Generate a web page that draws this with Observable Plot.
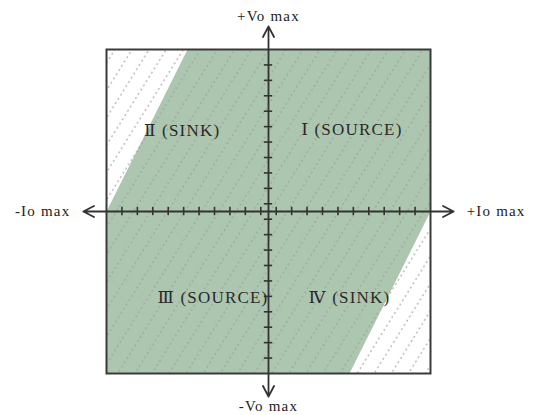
<!DOCTYPE html>
<html>
<head>
<meta charset="utf-8">
<script src="https://cdn.jsdelivr.net/npm/d3@7"></script>
<script src="https://cdn.jsdelivr.net/npm/@observablehq/plot@0.6"></script>
<style>
  html, body { margin: 0; padding: 0; background: #fff; }
  svg text { letter-spacing: 1.2px; }
</style>
</head>
<body>
<div id="chart"></div>
<script>
// Operating envelope (units: fraction of max, scaled to ±10.5)
const envelopeX = [-10.5, -5.25, 10.5, 10.5, 5.25, -10.5];
const envelopeY = [0, 10.5, 10.5, 0, -10.5, -10.5];

// Axis tick positions
const tickValues = [-9.5, -8.5, -7.5, -6.5, -5.5, -4.5, -3.5, -2.5, -1.5, -0.5,
                    0.5, 1.5, 2.5, 3.5, 4.5, 5.5, 6.5, 7.5, 8.5, 9.5];

// Axis arrows (end points)
const arrowX = [12, -12, 0, 0];
const arrowY = [0, 0, 12, -12];

// Axis end labels
const axisLabels = ["+Io max", "-Io max", "+Vo max", "-Vo max"];

// Quadrant labels
const quadLabels = ["Ⅰ (SOURCE)", "Ⅱ (SINK)", "Ⅲ (SOURCE)", "Ⅳ (SINK)"];
const quadX = [5.4, -5.6, -3.6, 5.25];
const quadY = [5.3, 5.25, -5.6, -5.6];

const envelope = envelopeX.map((x, i) => ({x, y: envelopeY[i]}));
const arrows = arrowX.map((x, i) => ({x, y: arrowY[i], label: axisLabels[i]}));
const quads = quadLabels.map((t, i) => ({t, x: quadX[i], y: quadY[i]}));

const serif = "'Liberation Serif', 'Times New Roman', 'DejaVu Serif', serif";
const ink = "#333";

// label offsets (style): right, left, top, bottom
const labelStyle = [
  {textAnchor: "start", dx: 13, dy: 0},
  {textAnchor: "end", dx: -13, dy: 0},
  {textAnchor: "middle", dx: 0, dy: -10},
  {textAnchor: "middle", dx: 0, dy: 10}
];

const svg = Plot.plot({
  width: 535,
  height: 415,
  marginLeft: 106,
  marginRight: 105,
  marginTop: 49,
  marginBottom: 42,
  x: {domain: [-10.5, 10.5], axis: null},
  y: {domain: [-10.5, 10.5], axis: null},
  style: {background: "#fff", overflow: "visible"},
  marks: [
    Plot.line(envelope, {x: "x", y: "y", fill: "#adc6af", stroke: "none"}),
    Plot.frame({fill: "url(#hatch)", stroke: "none"}),
    Plot.frame({stroke: "#3a3a3a", strokeWidth: 2}),
    Plot.ruleX(tickValues, {x: d => d, y1: -0.27, y2: 0.27, stroke: ink, strokeWidth: 1.6}),
    Plot.ruleY(tickValues, {y: d => d, x1: -0.27, x2: 0.27, stroke: ink, strokeWidth: 1.6}),
    Plot.arrow(arrows, {x1: () => 0, y1: () => 0, x2: "x", y2: "y",
      stroke: ink, strokeWidth: 1.8, headLength: 10, headAngle: 55}),
    ...arrows.map((a, i) => Plot.text([a], {
      x: "x", y: "y", text: "label",
      ...labelStyle[i],
      fontFamily: serif, fontSize: 15, fill: "#222", lineAnchor: "middle"
    })),
    Plot.text(quads, {x: "x", y: "y", text: "t", fontFamily: serif, fontSize: 17,
      fill: "#2a2a2a", lineAnchor: "middle"})
  ]
});

const ns = "http://www.w3.org/2000/svg";
const defs = document.createElementNS(ns, "defs");
defs.innerHTML = `<pattern id="hatch" patternUnits="userSpaceOnUse" width="14.5" height="10" patternTransform="rotate(32)">
  <line x1="7" y1="0" x2="7" y2="10" stroke="#9c9c9c" stroke-width="1" stroke-dasharray="2 3"/>
</pattern>`;
svg.insertBefore(defs, svg.firstChild);

document.getElementById("chart").appendChild(svg);
</script>
</body>
</html>
